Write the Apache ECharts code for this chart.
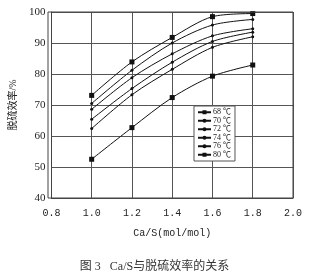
<!DOCTYPE html>
<html><head><meta charset="utf-8">
<script src="https://cdn.jsdelivr.net/npm/echarts@6/dist/echarts.min.js"></script>
<style>html,body{margin:0;padding:0;background:#fff}#c{width:309px;height:278px}</style>
</head><body><div id="c"></div>
<script>
const xValues = [1.0, 1.2, 1.4, 1.6, 1.8];
const seriesNames = ['68 ℃', '70 ℃', '72 ℃', '74 ℃', '76 ℃', '80 ℃'];
const s68 = [73.1, 83.9, 91.8, 98.5, 99.5];
const s70 = [70.5, 81.2, 90.0, 95.8, 97.6];
const s72 = [68.6, 78.8, 86.5, 92.3, 94.6];
const s74 = [65.4, 75.3, 83.8, 90.5, 93.5];
const s76 = [62.4, 73.3, 81.5, 88.6, 92.0];
const s80 = [52.5, 62.7, 72.4, 79.3, 82.9];
const xTicks = ['0.8', '1.0', '1.2', '1.4', '1.6', '1.8', '2.0'];
const yTicks = [40, 50, 60, 70, 80, 90, 100];

const allSeries = [s68, s70, s72, s74, s76, s80];
const symbols = ['rect', 'circle', 'circle', 'circle', 'circle', 'rect'];
const symbolSizes = [5, 3, 3, 3, 3, 5];
const font = '"Liberation Serif", "Noto Sans CJK SC", serif';

const chart = echarts.init(document.getElementById('c'));
chart.setOption({
  animation: false,
  backgroundColor: '#fff',
  title: {
    text: '图 3   Ca/S与脱硫效率的关系',
    left: 'center', top: 256,
    textStyle: { fontSize: 12, fontWeight: 'normal', color: '#333', fontFamily: font }
  },
  grid: { left: 48, right: 16, top: 12, bottom: 80 },
  legend: {
    orient: 'vertical', left: 194, top: 106,
    data: seriesNames,
    itemWidth: 13, itemHeight: 5, itemGap: 0,
    padding: [2, 4, 2, 3],
    borderColor: '#555', borderWidth: 1, backgroundColor: '#fff',
    textStyle: { fontSize: 8, lineHeight: 8.5, color: '#222', fontFamily: font, padding: [0, 0, 0, -3] }
  },
  xAxis: {
    type: 'value', min: 0.8, max: 2.0, interval: 0.2,
    name: 'Ca/S(mol/mol)', nameLocation: 'middle', nameGap: 30,
    nameTextStyle: { fontSize: 10, color: '#222', fontFamily: '"Liberation Mono", monospace' },
    axisLine: { lineStyle: { color: '#444' } },
    axisTick: { show: false },
    axisLabel: { fontSize: 10, color: '#222', margin: 10, fontFamily: '"Liberation Mono", monospace',
      formatter: v => xTicks[Math.round((v - 0.8) / 0.2)] },
    splitLine: { show: true, lineStyle: { color: '#555', width: 1 } }
  },
  yAxis: {
    type: 'value', min: 40, max: 100, interval: 10,
    name: '脱硫效率/%', nameLocation: 'middle', nameGap: 27, nameRotate: 90,
    nameTextStyle: { fontSize: 10, color: '#222', fontFamily: font },
    axisLine: { show: true, lineStyle: { color: '#444' } },
    axisTick: { show: false },
    axisLabel: { fontSize: 11, color: '#222', margin: 6, fontFamily: font,
      formatter: v => String(yTicks[Math.round((v - 40) / 10)]) },
    splitLine: { show: true, lineStyle: { color: '#555', width: 1 } }
  },
  graphic: [{
    type: 'rect', shape: { x: 48, y: 12, width: 245, height: 186 },
    style: { fill: 'none', stroke: '#444', lineWidth: 1 }, silent: true, z: 10
  }],
  series: allSeries.map((d, i) => ({
    name: seriesNames[i],
    type: 'line',
    smooth: 0.3,
    data: xValues.map((x, j) => [x, d[j]]),
    symbol: symbols[i], symbolSize: symbolSizes[i],
    showAllSymbol: true,
    itemStyle: { color: '#111' },
    lineStyle: { color: '#111', width: 1 }
  }))
});
</script></body></html>
